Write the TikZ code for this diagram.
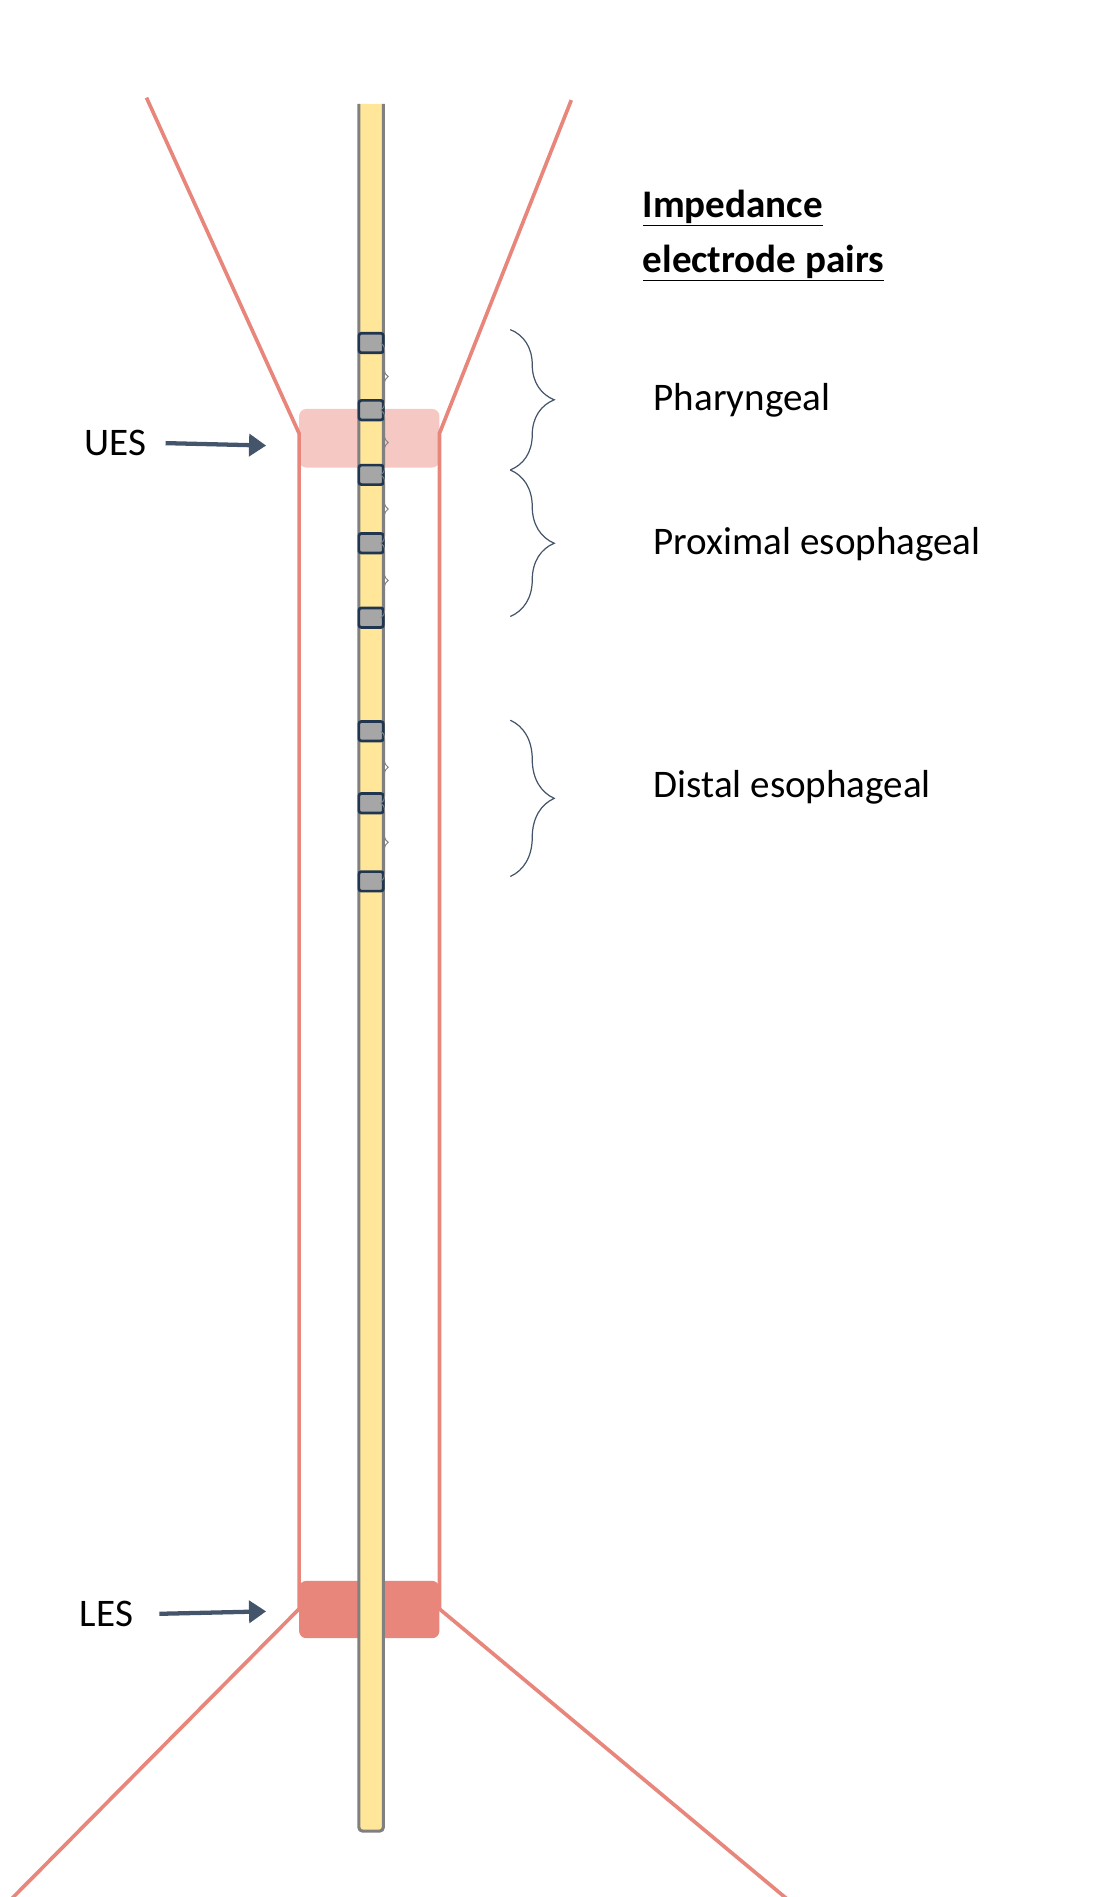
\documentclass[tikz,border=0pt]{standalone}
\usepackage{fontspec}
\setmainfont{Carlito}
\usetikzlibrary{positioning,decorations.pathreplacing,arrows.meta}
\definecolor{wall}{HTML}{E8867C}
\definecolor{tube}{HTML}{FFE699}
\definecolor{navy}{HTML}{1F3550}
\definecolor{slate}{HTML}{44546A}

\begin{document}
\begin{tikzpicture}[x=1pt, y=-1pt,
  elec/.style={draw=navy, line width=2.2pt, fill=gray!70, rounded corners=2pt, minimum width=20pt, minimum height=16pt, inner sep=0pt},
  lbl/.style={font=\fontsize{32}{38}\selectfont, anchor=west},
  pairbrace/.style={decorate, decoration={brace, amplitude=6pt}, gray, line width=0.8pt},
  bigbrace/.style={decorate, decoration={brace, amplitude=36pt}, slate, line width=1pt},
  pointer/.style={-{Triangle[length=14pt, width=18pt]}, slate, line width=3.5pt}]
\useasboundingbox (0,0) rectangle (897,1554);

% sphincter bands
\fill[wall!45, rounded corners=6pt] (245,335) rectangle (360,383);
\fill[wall, rounded corners=6pt] (245,1295) rectangle (360,1342);

% esophagus walls
\draw[wall, line width=3pt] (120,80) -- (245,355) -- (245,1318) -- (5,1560);
\draw[wall, line width=3pt] (468,82) -- (360,355) -- (360,1318) -- (650,1560);

% catheter
\draw[gray, fill=tube, line width=2.5pt, rounded corners=3pt] (294,85) -- (294,1500) -- (314,1500) -- (314,85);

% electrodes
\foreach \y [count=\i] in {281,336,389,445,506,599,658,722}
  \node[elec] (e\i) at (304,\y) {};

% pair brackets
\foreach \a/\b in {1/2,2/3,3/4,4/5,6/7,7/8}
  \draw[pairbrace] ([xshift=8pt]e\a.center) -- ([xshift=8pt]e\b.center);

% region braces
\draw[bigbrace] (418,270) -- (418,385);
\draw[bigbrace] (418,385) -- (418,505);
\draw[bigbrace] (418,590) -- (418,718);

\node[lbl] (phar) at (532,328) {Pharyngeal};
\node[lbl] (prox) at (532,446) {Proximal esophageal};
\node[lbl] (dist) at (532,645) {Distal esophageal};
\node[lbl, align=left, font=\fontsize{32}{45}\selectfont\bfseries] (title) at (523,193)
  {\underline{Impedance}\\\underline{electrode pairs}};

% sphincter labels
\node[lbl] (ues) at (66,363) {UES};
\node[lbl] (les) at (62,1322) {LES};
\coordinate (uesend) at (218,365);
\coordinate (lesend) at (218,1320);
\draw[pointer] ([xshift=12pt]ues.east) -- (uesend);
\draw[pointer] ([xshift=18pt]les.east) -- (lesend);
\end{tikzpicture}
\end{document}
